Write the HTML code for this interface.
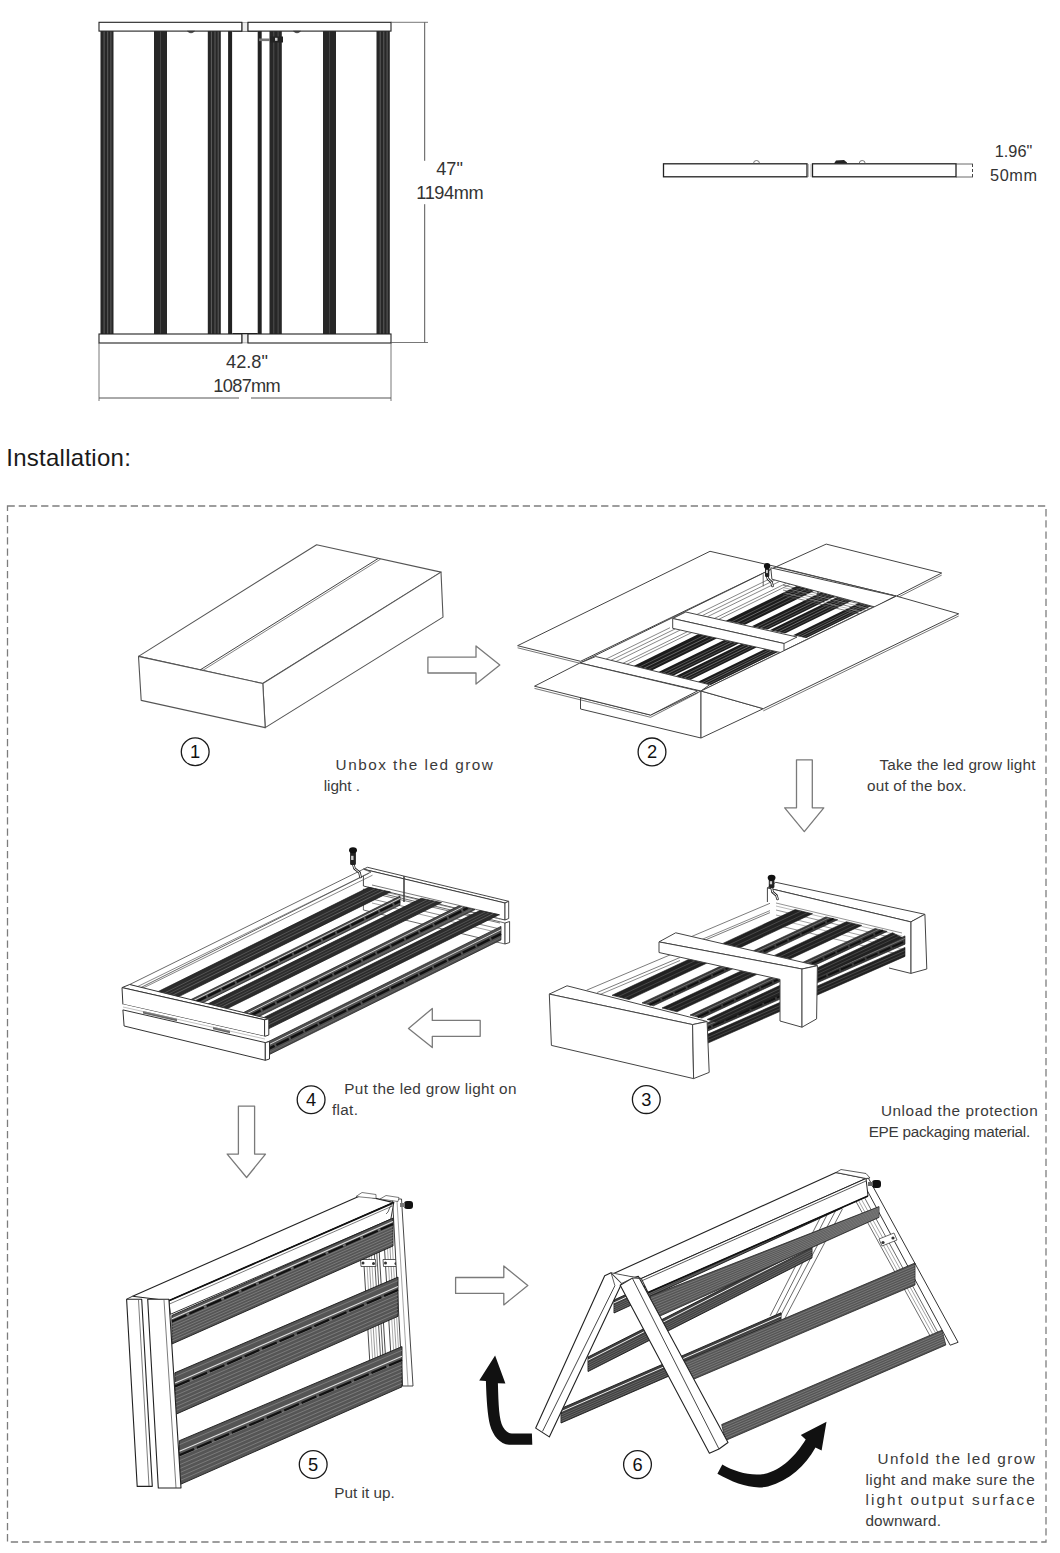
<!DOCTYPE html>
<html><head><meta charset="utf-8"><style>
html,body{margin:0;padding:0;background:#fff;overflow:hidden;width:1060px;height:1553px;}
svg{display:block;font-family:"Liberation Sans",sans-serif;}
</style></head><body>
<svg width="1060" height="1553" viewBox="0 0 1060 1553">
<rect width="1060" height="1553" fill="#fff"/>
<rect x="100.5" y="31.0" width="13.0" height="303.0" fill="#272727" stroke="none" stroke-width="0" />
<line x1="104.1" y1="31.0" x2="104.1" y2="334.0" stroke="#6b6b6b" stroke-width="0.8" />
<line x1="107.7" y1="31.0" x2="107.7" y2="334.0" stroke="#6b6b6b" stroke-width="0.8" />
<line x1="110.9" y1="31.0" x2="110.9" y2="334.0" stroke="#6b6b6b" stroke-width="0.8" />
<rect x="154.0" y="31.0" width="13.0" height="303.0" fill="#272727" stroke="none" stroke-width="0" />
<line x1="160.5" y1="31.0" x2="160.5" y2="334.0" stroke="#4a4a4a" stroke-width="0.8" />
<rect x="207.8" y="31.0" width="13.0" height="303.0" fill="#272727" stroke="none" stroke-width="0" />
<line x1="211.4" y1="31.0" x2="211.4" y2="334.0" stroke="#6b6b6b" stroke-width="0.8" />
<line x1="215.0" y1="31.0" x2="215.0" y2="334.0" stroke="#6b6b6b" stroke-width="0.8" />
<line x1="218.2" y1="31.0" x2="218.2" y2="334.0" stroke="#6b6b6b" stroke-width="0.8" />
<rect x="269.5" y="31.0" width="12.3" height="303.0" fill="#272727" stroke="none" stroke-width="0" />
<line x1="273.8" y1="31.0" x2="273.8" y2="334.0" stroke="#5a5a5a" stroke-width="0.8" />
<line x1="278.1" y1="31.0" x2="278.1" y2="334.0" stroke="#5a5a5a" stroke-width="0.8" />
<rect x="323.0" y="31.0" width="13.0" height="303.0" fill="#272727" stroke="none" stroke-width="0" />
<line x1="329.5" y1="31.0" x2="329.5" y2="334.0" stroke="#4a4a4a" stroke-width="0.8" />
<rect x="376.5" y="31.0" width="13.3" height="303.0" fill="#272727" stroke="none" stroke-width="0" />
<line x1="380.2" y1="31.0" x2="380.2" y2="334.0" stroke="#6b6b6b" stroke-width="0.8" />
<line x1="383.8" y1="31.0" x2="383.8" y2="334.0" stroke="#6b6b6b" stroke-width="0.8" />
<line x1="387.1" y1="31.0" x2="387.1" y2="334.0" stroke="#6b6b6b" stroke-width="0.8" />
<rect x="228.1" y="31.0" width="4.0" height="303.0" fill="#222" stroke="none" stroke-width="0" />
<rect x="257.7" y="31.0" width="4.0" height="303.0" fill="#222" stroke="none" stroke-width="0" />
<line x1="232.5" y1="333.5" x2="257.7" y2="333.5" stroke="#222" stroke-width="1" />
<line x1="232.5" y1="31.5" x2="257.7" y2="31.5" stroke="#333" stroke-width="0.8" />
<rect x="242.3" y="22.6" width="5.4" height="8.6" fill="#eee" stroke="#888" stroke-width="0.6" />
<rect x="242.3" y="334.3" width="5.4" height="8.6" fill="#eee" stroke="#888" stroke-width="0.6" />
<rect x="259.0" y="38.5" width="14.0" height="2.6" fill="#777" stroke="none" stroke-width="0" />
<rect x="270.0" y="36.5" width="13.0" height="6.0" fill="#222" stroke="none" stroke-width="0" />
<rect x="275.0" y="37.8" width="2.5" height="3.0" fill="#ccc" stroke="none" stroke-width="0" />
<rect x="99.0" y="22.3" width="142.8" height="8.8" fill="#fff" stroke="#222" stroke-width="1.1" />
<rect x="99.0" y="334.0" width="142.8" height="9.0" fill="#fff" stroke="#222" stroke-width="1.1" />
<rect x="248.0" y="22.3" width="143.0" height="8.8" fill="#fff" stroke="#222" stroke-width="1.1" />
<rect x="248.0" y="334.0" width="143.0" height="9.0" fill="#fff" stroke="#222" stroke-width="1.1" />
<path d="M187.5,31.2 Q191,34.5 194.5,31.2 Z" fill="#333" stroke="#333" stroke-width="0.6"/>
<path d="M293.5,31.2 Q297,34.5 300.5,31.2 Z" fill="#333" stroke="#333" stroke-width="0.6"/>
<line x1="391.0" y1="22.3" x2="428.0" y2="22.3" stroke="#555" stroke-width="0.8" />
<line x1="391.0" y1="342.5" x2="428.0" y2="342.5" stroke="#555" stroke-width="0.8" />
<line x1="424.7" y1="22.3" x2="424.7" y2="160.8" stroke="#555" stroke-width="1" />
<line x1="424.7" y1="204.2" x2="424.7" y2="342.5" stroke="#555" stroke-width="1" />
<line x1="99.0" y1="343.0" x2="99.0" y2="401.0" stroke="#555" stroke-width="0.8" />
<line x1="391.0" y1="343.0" x2="391.0" y2="401.0" stroke="#555" stroke-width="0.8" />
<line x1="99.0" y1="398.0" x2="239.0" y2="398.0" stroke="#555" stroke-width="1" />
<line x1="251.0" y1="398.0" x2="391.0" y2="398.0" stroke="#555" stroke-width="1" />
<text x="449.5" y="175.0" font-size="18.2" fill="#333" text-anchor="middle" >47"</text>
<text x="450.0" y="198.6" font-size="18.2" fill="#333" text-anchor="middle" textLength="67.5" lengthAdjust="spacing" >1194mm</text>
<text x="247.0" y="368.0" font-size="18.2" fill="#333" text-anchor="middle" >42.8"</text>
<text x="247.0" y="392.3" font-size="18.2" fill="#333" text-anchor="middle" textLength="67.5" lengthAdjust="spacing" >1087mm</text>
<rect x="663.5" y="163.8" width="143.5" height="13.0" fill="#fff" stroke="#222" stroke-width="1.3" />
<rect x="812.5" y="163.8" width="143.5" height="13.0" fill="#fff" stroke="#222" stroke-width="1.3" />
<line x1="808.5" y1="164.0" x2="808.5" y2="177.0" stroke="#aaa" stroke-width="0.8" />
<line x1="811.0" y1="164.0" x2="811.0" y2="177.0" stroke="#aaa" stroke-width="0.8" />
<polyline points="956.0,164.0 973.0,164.0" fill="none" stroke="#444" stroke-width="0.8" stroke-linejoin="round" />
<polyline points="956.0,177.0 973.0,177.0" fill="none" stroke="#444" stroke-width="0.8" stroke-linejoin="round" />
<line x1="972.5" y1="164.0" x2="972.5" y2="177.0" stroke="#444" stroke-width="1" stroke-dasharray="3,2"/>
<path d="M753.5,163.5 A3,3 0 0 1 759.5,163.5" fill="none" stroke="#555" stroke-width="0.8"/>
<path d="M859.2,163.5 A3,3 0 0 1 865.2,163.5" fill="none" stroke="#555" stroke-width="0.8"/>
<path d="M834,163.5 L836,160.5 L844,160 L847,162.5 L847,163.5 Z" fill="#222"/>
<text x="1013.5" y="157.0" font-size="16.3" fill="#333" text-anchor="middle" >1.96"</text>
<text x="1013.5" y="180.6" font-size="16.3" fill="#333" text-anchor="middle" textLength="47.0" lengthAdjust="spacing" >50mm</text>
<rect x="7.5" y="506" width="1038.5" height="1036" fill="none" stroke="#7d7d7d" stroke-width="1.3" stroke-dasharray="7.3,3.9"/>
<polygon points="427.9,657.2 476.0,657.2 476.0,645.9 499.8,665.1 476.0,684.1 476.0,673.0 427.9,673.0" fill="#fff" stroke="#7a7a7a" stroke-width="1.3" stroke-linejoin="round" />
<polygon points="796.5,759.8 812.3,759.8 812.3,807.8 823.8,807.8 804.3,831.6 784.7,807.8 796.5,807.8" fill="#fff" stroke="#7a7a7a" stroke-width="1.3" stroke-linejoin="round" />
<polygon points="480.2,1020.4 432.3,1020.4 432.3,1008.5 408.5,1028.4 432.3,1047.5 432.3,1036.3 480.2,1036.3" fill="#fff" stroke="#7a7a7a" stroke-width="1.3" stroke-linejoin="round" />
<polygon points="238.4,1106.1 254.6,1106.1 254.6,1154.1 265.5,1154.1 246.6,1177.5 227.2,1154.1 238.4,1154.1" fill="#fff" stroke="#7a7a7a" stroke-width="1.3" stroke-linejoin="round" />
<polygon points="455.6,1277.5 503.8,1277.5 503.8,1266.0 527.8,1285.6 503.8,1304.9 503.8,1293.4 455.6,1293.4" fill="#fff" stroke="#7a7a7a" stroke-width="1.3" stroke-linejoin="round" />
<circle cx="195.2" cy="751.8" r="13.9" fill="none" stroke="#1a1a1a" stroke-width="1.3"/>
<text x="195.2" y="758.2" font-size="18.3" fill="#111" text-anchor="middle" >1</text>
<circle cx="652" cy="751.9" r="13.9" fill="none" stroke="#1a1a1a" stroke-width="1.3"/>
<text x="652.0" y="758.3" font-size="18.3" fill="#111" text-anchor="middle" >2</text>
<circle cx="646.3" cy="1099.6" r="13.9" fill="none" stroke="#1a1a1a" stroke-width="1.3"/>
<text x="646.3" y="1106.0" font-size="18.3" fill="#111" text-anchor="middle" >3</text>
<circle cx="311.1" cy="1099.7" r="13.9" fill="none" stroke="#1a1a1a" stroke-width="1.3"/>
<text x="311.1" y="1106.1" font-size="18.3" fill="#111" text-anchor="middle" >4</text>
<circle cx="313.2" cy="1464.5" r="13.9" fill="none" stroke="#1a1a1a" stroke-width="1.3"/>
<text x="313.2" y="1470.9" font-size="18.3" fill="#111" text-anchor="middle" >5</text>
<circle cx="637.5" cy="1464.6" r="13.9" fill="none" stroke="#1a1a1a" stroke-width="1.3"/>
<text x="637.5" y="1471.0" font-size="18.3" fill="#111" text-anchor="middle" >6</text>
<text x="335.6" y="770.4" font-size="15.3" fill="#3a3a3a" text-anchor="start" textLength="157.3" lengthAdjust="spacing" >Unbox the led grow</text>
<text x="323.7" y="790.8" font-size="15.3" fill="#3a3a3a" text-anchor="start" textLength="36.2" lengthAdjust="spacing" >light .</text>
<text x="879.5" y="770.4" font-size="15.3" fill="#3a3a3a" text-anchor="start" textLength="155.9" lengthAdjust="spacing" >Take the led grow light</text>
<text x="867.0" y="791.0" font-size="15.3" fill="#3a3a3a" text-anchor="start" textLength="99.5" lengthAdjust="spacing" >out of the box.</text>
<text x="344.3" y="1094.2" font-size="15.3" fill="#3a3a3a" text-anchor="start" textLength="172.1" lengthAdjust="spacing" >Put the led grow light on</text>
<text x="331.9" y="1114.6" font-size="15.3" fill="#3a3a3a" text-anchor="start" textLength="26.0" lengthAdjust="spacing" >flat.</text>
<text x="880.9" y="1115.6" font-size="15.3" fill="#3a3a3a" text-anchor="start" textLength="156.8" lengthAdjust="spacing" >Unload the protection</text>
<text x="868.7" y="1136.9" font-size="15.3" fill="#3a3a3a" text-anchor="start" textLength="161.5" lengthAdjust="spacing" >EPE packaging material.</text>
<text x="334.2" y="1498.3" font-size="15.3" fill="#3a3a3a" text-anchor="start" textLength="60.5" lengthAdjust="spacing" >Put it up.</text>
<text x="877.4" y="1464.4" font-size="15.3" fill="#3a3a3a" text-anchor="start" textLength="157.4" lengthAdjust="spacing" >Unfold the led grow</text>
<text x="865.4" y="1484.8" font-size="15.3" fill="#3a3a3a" text-anchor="start" textLength="169.4" lengthAdjust="spacing" >light and make sure the</text>
<text x="865.4" y="1505.0" font-size="15.3" fill="#3a3a3a" text-anchor="start" textLength="169.4" lengthAdjust="spacing" >light output surface</text>
<text x="865.4" y="1525.7" font-size="15.3" fill="#3a3a3a" text-anchor="start" textLength="75.6" lengthAdjust="spacing" >downward.</text>
<text x="6.3" y="466.4" font-size="24" fill="#1a1a1a" text-anchor="start" textLength="124.5" lengthAdjust="spacing" >Installation:</text>
<polygon points="316.6,544.7 441.0,572.1 262.8,683.5 138.5,656.4" fill="#fff" stroke="#555" stroke-width="1.1" stroke-linejoin="round" />
<polygon points="441.0,572.1 443.0,617.1 265.2,727.6 262.8,683.5" fill="#fff" stroke="#555" stroke-width="1.1" stroke-linejoin="round" />
<polygon points="138.5,656.4 262.8,683.5 265.2,727.6 141.2,700.4" fill="#fff" stroke="#555" stroke-width="1.1" stroke-linejoin="round" />
<line x1="200.0" y1="670.0" x2="378.1" y2="558.5" stroke="#444" stroke-width="1" />
<line x1="202.5" y1="670.6" x2="380.6" y2="559.1" stroke="#666" stroke-width="0.8" />
<polygon points="580.5,661.3 776.4,566.7 710.0,551.3 517.6,645.7" fill="#fff" stroke="#444" stroke-width="1" stroke-linejoin="round" />
<line x1="517.6" y1="647.8" x2="580.5" y2="663.4" stroke="#555" stroke-width="0.8" />
<polygon points="776.4,566.7 896.4,596.1 941.7,573.0 826.2,544.1" fill="#fff" stroke="#444" stroke-width="1" stroke-linejoin="round" />
<line x1="896.4" y1="598.2" x2="941.7" y2="575.1" stroke="#555" stroke-width="0.8" />
<polygon points="580.0,663.0 701.0,691.0 896.0,596.0 776.0,567.0" fill="#fff" stroke="#444" stroke-width="1" stroke-linejoin="round" />
<polygon points="580.5,697.7 580.5,709.0 701.0,738.0 701.0,691.0 650.6,715.1" fill="#fff" stroke="#444" stroke-width="1" stroke-linejoin="round" />
<polygon points="701.0,691.0 701.0,738.0 763.3,708.7" fill="#fff" stroke="#444" stroke-width="1" stroke-linejoin="round" />
<clipPath id="secB"><polygon points="684.6,611.7 758.5,575.6 873.9,606.7 807.2,638.3"/></clipPath>
<polygon points="633.6,665.9 651.7,670.4 717.2,638.3 698.5,634.1" fill="#1c1c1c" stroke="none" stroke-width="0" stroke-linejoin="round" />
<line x1="639.0" y1="667.2" x2="704.1" y2="635.4" stroke="#777" stroke-width="0.6" />
<line x1="643.6" y1="668.3" x2="708.8" y2="636.4" stroke="#999" stroke-width="0.6" />
<line x1="648.1" y1="669.5" x2="713.4" y2="637.5" stroke="#666" stroke-width="0.6" />
<polygon points="658.5,672.0 673.2,675.7 739.4,643.3 724.2,639.9" fill="#1c1c1c" stroke="none" stroke-width="0" stroke-linejoin="round" />
<line x1="662.9" y1="673.1" x2="728.8" y2="640.9" stroke="#777" stroke-width="0.6" />
<line x1="666.6" y1="674.1" x2="732.5" y2="641.7" stroke="#999" stroke-width="0.6" />
<line x1="670.3" y1="675.0" x2="736.3" y2="642.6" stroke="#666" stroke-width="0.6" />
<polygon points="675.5,676.3 690.2,679.9 756.9,647.2 741.7,643.8" fill="#1c1c1c" stroke="none" stroke-width="0" stroke-linejoin="round" />
<line x1="679.9" y1="677.3" x2="746.3" y2="644.8" stroke="#777" stroke-width="0.6" />
<line x1="683.6" y1="678.3" x2="750.1" y2="645.7" stroke="#999" stroke-width="0.6" />
<line x1="687.3" y1="679.2" x2="753.9" y2="646.5" stroke="#666" stroke-width="0.6" />
<polygon points="698.0,681.8 710.6,684.9 778.0,651.9 765.0,649.0" fill="#1c1c1c" stroke="none" stroke-width="0" stroke-linejoin="round" />
<line x1="701.8" y1="682.8" x2="768.9" y2="649.9" stroke="#777" stroke-width="0.6" />
<line x1="704.9" y1="683.5" x2="772.1" y2="650.6" stroke="#999" stroke-width="0.6" />
<line x1="708.1" y1="684.3" x2="775.4" y2="651.4" stroke="#666" stroke-width="0.6" />
<g clip-path="url(#secB)">
<polygon points="633.6,665.9 651.7,670.4 886.9,555.2 868.8,550.7" fill="#1c1c1c" stroke="none" stroke-width="0" stroke-linejoin="round" />
<line x1="639.0" y1="667.2" x2="874.2" y2="552.0" stroke="#777" stroke-width="0.6" />
<line x1="643.6" y1="668.3" x2="878.8" y2="553.1" stroke="#999" stroke-width="0.6" />
<line x1="648.1" y1="669.5" x2="883.3" y2="554.3" stroke="#666" stroke-width="0.6" />
<polygon points="658.5,672.0 673.2,675.7 908.4,560.5 893.7,556.8" fill="#1c1c1c" stroke="none" stroke-width="0" stroke-linejoin="round" />
<line x1="662.9" y1="673.1" x2="898.1" y2="557.9" stroke="#777" stroke-width="0.6" />
<line x1="666.6" y1="674.1" x2="901.8" y2="558.9" stroke="#999" stroke-width="0.6" />
<line x1="670.3" y1="675.0" x2="905.5" y2="559.8" stroke="#666" stroke-width="0.6" />
<polygon points="675.5,676.3 690.2,679.9 925.4,564.7 910.7,561.1" fill="#1c1c1c" stroke="none" stroke-width="0" stroke-linejoin="round" />
<line x1="679.9" y1="677.3" x2="915.1" y2="562.1" stroke="#777" stroke-width="0.6" />
<line x1="683.6" y1="678.3" x2="918.8" y2="563.1" stroke="#999" stroke-width="0.6" />
<line x1="687.3" y1="679.2" x2="922.5" y2="564.0" stroke="#666" stroke-width="0.6" />
<polygon points="698.0,681.8 710.6,684.9 945.8,569.7 933.2,566.6" fill="#1c1c1c" stroke="none" stroke-width="0" stroke-linejoin="round" />
<line x1="701.8" y1="682.8" x2="937.0" y2="567.6" stroke="#777" stroke-width="0.6" />
<line x1="704.9" y1="683.5" x2="940.1" y2="568.3" stroke="#999" stroke-width="0.6" />
<line x1="708.1" y1="684.3" x2="943.3" y2="569.1" stroke="#666" stroke-width="0.6" />
<polygon points="716.0,686.3 728.0,689.3 963.2,574.1 951.2,571.1" fill="#1c1c1c" stroke="none" stroke-width="0" stroke-linejoin="round" />
<line x1="719.6" y1="687.2" x2="954.8" y2="572.0" stroke="#777" stroke-width="0.6" />
<line x1="722.6" y1="687.9" x2="957.8" y2="572.7" stroke="#999" stroke-width="0.6" />
<line x1="725.6" y1="688.7" x2="960.8" y2="573.5" stroke="#666" stroke-width="0.6" />
<polygon points="734.0,690.7 748.0,694.2 983.2,579.0 969.2,575.5" fill="#1c1c1c" stroke="none" stroke-width="0" stroke-linejoin="round" />
<line x1="738.2" y1="691.8" x2="973.4" y2="576.6" stroke="#777" stroke-width="0.6" />
<line x1="741.7" y1="692.6" x2="976.9" y2="577.4" stroke="#999" stroke-width="0.6" />
<line x1="745.2" y1="693.5" x2="980.4" y2="578.3" stroke="#666" stroke-width="0.6" />
</g>
<line x1="606.0" y1="659.1" x2="670.0" y2="627.7" stroke="#555" stroke-width="0.7" />
<line x1="696.9" y1="614.5" x2="770.0" y2="578.7" stroke="#555" stroke-width="0.7" />
<line x1="611.0" y1="660.3" x2="675.2" y2="628.9" stroke="#555" stroke-width="0.7" />
<line x1="702.1" y1="615.7" x2="774.9" y2="580.0" stroke="#555" stroke-width="0.7" />
<line x1="616.0" y1="661.5" x2="680.3" y2="630.0" stroke="#555" stroke-width="0.7" />
<line x1="707.3" y1="616.8" x2="779.8" y2="581.3" stroke="#555" stroke-width="0.7" />
<line x1="623.0" y1="663.3" x2="687.6" y2="631.6" stroke="#555" stroke-width="0.7" />
<line x1="714.5" y1="618.4" x2="786.5" y2="583.2" stroke="#555" stroke-width="0.7" />
<line x1="627.0" y1="664.2" x2="691.7" y2="632.6" stroke="#555" stroke-width="0.7" />
<line x1="718.6" y1="619.4" x2="790.4" y2="584.2" stroke="#555" stroke-width="0.7" />
<line x1="783.0" y1="585.0" x2="872.0" y2="607.0" stroke="#444" stroke-width="0.7" />
<line x1="783.0" y1="587.5" x2="872.0" y2="609.5" stroke="#888" stroke-width="0.7" />
<line x1="783.0" y1="590.0" x2="872.0" y2="612.0" stroke="#555" stroke-width="0.7" />
<line x1="783.0" y1="592.5" x2="872.0" y2="614.5" stroke="#999" stroke-width="0.7" />
<line x1="783.0" y1="595.0" x2="872.0" y2="617.0" stroke="#555" stroke-width="0.7" />
<line x1="818.0" y1="590.0" x2="818.0" y2="600.0" stroke="#444" stroke-width="1.4" />
<polygon points="580.0,663.0 701.0,691.0 709.6,684.7 595.7,656.5" fill="#fff" stroke="#444" stroke-width="1" stroke-linejoin="round" />
<polygon points="672.7,618.5 685.8,612.0 797.0,637.0 784.0,643.5" fill="#fff" stroke="#444" stroke-width="1" stroke-linejoin="round" />
<polygon points="672.7,618.5 784.0,643.5 784.0,653.3 672.7,628.3" fill="#fff" stroke="#444" stroke-width="1" stroke-linejoin="round" />
<polygon points="770.8,567.8 895.3,596.1 874.9,607.0 771.9,579.2" fill="#fff" stroke="#444" stroke-width="1" stroke-linejoin="round" />
<polygon points="579.9,663.0 697.7,690.8 650.6,715.1 534.5,686.2" fill="#fff" stroke="#444" stroke-width="1" stroke-linejoin="round" />
<line x1="534.5" y1="688.4" x2="650.6" y2="717.3" stroke="#555" stroke-width="0.8" />
<line x1="650.6" y1="717.3" x2="697.7" y2="693.0" stroke="#555" stroke-width="0.8" />
<polygon points="701.0,691.0 896.4,596.1 958.7,613.8 763.3,708.7" fill="#fff" stroke="#444" stroke-width="1" stroke-linejoin="round" />
<line x1="763.3" y1="710.9" x2="958.7" y2="616.0" stroke="#555" stroke-width="0.8" />
<line x1="763.2" y1="574.2" x2="763.2" y2="586.3" stroke="#444" stroke-width="0.8" />
<path d="M767.2,576.0 L768.0,579.0 L771.5,582.0 L772.5,586.0" fill="none" stroke="#222" stroke-width="2.6" stroke-linecap="round" stroke-linejoin="round"/>
<path d="M767.2,576.0 L768.0,579.0 L771.5,582.0 L772.5,586.0" fill="none" stroke="#fff" stroke-width="1.0" stroke-linecap="round" stroke-linejoin="round"/>
<rect x="765.0" y="564.0" width="4.3" height="13.0" rx="1.2" fill="#222"/>
<rect x="766.0" y="569.9" width="1.9" height="3.2" fill="#ccc"/>
<ellipse cx="767.1" cy="566.0" rx="3.2" ry="3" fill="#111"/>
<polygon points="767.4,887.9 775.8,882.3 924.9,914.3 910.8,921.9" fill="#fff" stroke="#444" stroke-width="1" stroke-linejoin="round" />
<polygon points="910.8,921.9 924.9,914.3 926.8,969.0 910.8,973.4" fill="#fff" stroke="#444" stroke-width="1" stroke-linejoin="round" />
<polygon points="767.4,887.9 910.8,921.9 910.8,973.4 889.0,968.0 767.4,940.0" fill="#fff" stroke="none" stroke-width="0" stroke-linejoin="round" />
<polyline points="767.4,902.0 767.4,887.9 910.8,921.9 910.8,973.4 889.0,968.0" fill="none" stroke="#444" stroke-width="1" stroke-linejoin="round" />
<line x1="776.0" y1="903.0" x2="902.0" y2="933.0" stroke="#666" stroke-width="0.7" />
<line x1="776.0" y1="906.0" x2="902.0" y2="936.0" stroke="#999" stroke-width="0.7" />
<line x1="776.0" y1="910.0" x2="902.0" y2="940.0" stroke="#666" stroke-width="0.7" />
<line x1="776.0" y1="915.0" x2="902.0" y2="945.0" stroke="#777" stroke-width="0.7" />
<line x1="776.0" y1="919.0" x2="902.0" y2="949.0" stroke="#999" stroke-width="0.7" />
<line x1="776.0" y1="925.0" x2="902.0" y2="955.0" stroke="#666" stroke-width="0.7" />
<polygon points="700.0,1026.1 905.0,935.9 905.0,944.2 700.0,1034.4" fill="#3a3a3a" stroke="#1a1a1a" stroke-width="0.6" stroke-linejoin="round" />
<line x1="700.0" y1="1028.6" x2="905.0" y2="938.4" stroke="#999" stroke-width="0.6" />
<line x1="700.0" y1="1031.5" x2="905.0" y2="941.3" stroke="#111" stroke-width="2" stroke-dasharray="12,2"/>
<polygon points="700.0,1037.6 905.0,947.4 905.0,956.4 700.0,1046.6" fill="#222" stroke="#1a1a1a" stroke-width="0.6" stroke-linejoin="round" />
<line x1="700.0" y1="1040.8" x2="905.0" y2="950.5" stroke="#5a5a5a" stroke-width="0.7" />
<line x1="700.0" y1="1043.9" x2="905.0" y2="953.7" stroke="#555" stroke-width="0.6" />
<polygon points="672.0,944.8 770.0,903.3 770.0,914.3 672.0,955.8" fill="#fff" stroke="none" stroke-width="0" stroke-linejoin="round" />
<line x1="672.0" y1="944.8" x2="770.0" y2="903.3" stroke="#444" stroke-width="0.7" />
<line x1="672.0" y1="952.1" x2="770.0" y2="910.6" stroke="#555" stroke-width="0.7" />
<line x1="672.0" y1="954.1" x2="770.0" y2="912.6" stroke="#444" stroke-width="0.7" />
<line x1="586.6" y1="990.2" x2="680.0" y2="950.7" stroke="#444" stroke-width="0.7" />
<line x1="597.2" y1="992.5" x2="680.0" y2="957.5" stroke="#444" stroke-width="0.7" />
<line x1="600.0" y1="994.5" x2="680.0" y2="960.5" stroke="#555" stroke-width="0.7" />
<polygon points="612.0,995.3 795.1,909.6 812.5,913.7 629.0,999.6" fill="#222" stroke="#1a1a1a" stroke-width="0.6" stroke-linejoin="round" />
<line x1="618.0" y1="996.8" x2="801.2" y2="911.0" stroke="#5a5a5a" stroke-width="0.7" />
<line x1="623.9" y1="998.3" x2="807.3" y2="912.5" stroke="#555" stroke-width="0.6" />
<polygon points="642.0,1002.9 825.9,916.9 837.7,919.7 653.5,1005.8" fill="#3a3a3a" stroke="#1a1a1a" stroke-width="0.6" stroke-linejoin="round" />
<line x1="645.5" y1="1003.8" x2="829.4" y2="917.7" stroke="#999" stroke-width="0.6" />
<line x1="649.5" y1="1004.8" x2="833.5" y2="918.7" stroke="#111" stroke-width="2" stroke-dasharray="12,2"/>
<polygon points="662.0,1008.0 846.4,921.7 861.7,925.4 677.0,1011.8" fill="#222" stroke="#1a1a1a" stroke-width="0.6" stroke-linejoin="round" />
<line x1="667.2" y1="1009.3" x2="851.8" y2="923.0" stroke="#5a5a5a" stroke-width="0.7" />
<line x1="672.5" y1="1010.7" x2="857.1" y2="924.3" stroke="#555" stroke-width="0.6" />
<polygon points="690.0,1015.1 875.1,928.5 887.2,931.4 701.8,1018.1" fill="#3a3a3a" stroke="#1a1a1a" stroke-width="0.6" stroke-linejoin="round" />
<line x1="693.5" y1="1016.0" x2="878.7" y2="929.4" stroke="#999" stroke-width="0.6" />
<line x1="697.7" y1="1017.1" x2="882.9" y2="930.4" stroke="#111" stroke-width="2" stroke-dasharray="12,2"/>
<polygon points="707.0,1019.5 892.5,932.7 902.0,937.6 720.0,1022.8" fill="#222" stroke="#1a1a1a" stroke-width="0.6" stroke-linejoin="round" />
<line x1="711.5" y1="1020.6" x2="895.8" y2="934.4" stroke="#5a5a5a" stroke-width="0.7" />
<line x1="716.1" y1="1021.8" x2="899.1" y2="936.1" stroke="#555" stroke-width="0.6" />
<polygon points="659.0,941.9 675.7,932.8 817.4,965.7 802.0,969.0" fill="#fff" stroke="#444" stroke-width="1" stroke-linejoin="round" />
<polygon points="659.0,941.9 802.0,969.0 802.0,1027.2 780.0,1021.0 780.0,979.4 659.0,952.5" fill="#fff" stroke="#444" stroke-width="1" stroke-linejoin="round" />
<polygon points="802.0,969.0 817.4,965.7 816.6,1018.9 802.0,1027.2" fill="#fff" stroke="#444" stroke-width="1" stroke-linejoin="round" />
<polygon points="549.3,994.1 567.0,985.8 707.1,1021.5 692.6,1024.6" fill="#fff" stroke="#444" stroke-width="1" stroke-linejoin="round" />
<polygon points="549.3,994.1 692.6,1024.6 693.6,1078.6 551.4,1045.4" fill="#fff" stroke="#444" stroke-width="1" stroke-linejoin="round" />
<polygon points="692.6,1024.6 707.1,1021.5 709.2,1072.4 693.6,1078.6" fill="#fff" stroke="#444" stroke-width="1" stroke-linejoin="round" />
<path d="M771.6,887.0 L772.5,892.0 L776.5,895.5 L777.5,899.0" fill="none" stroke="#222" stroke-width="2.6" stroke-linecap="round" stroke-linejoin="round"/>
<path d="M771.6,887.0 L772.5,892.0 L776.5,895.5 L777.5,899.0" fill="none" stroke="#fff" stroke-width="1.0" stroke-linecap="round" stroke-linejoin="round"/>
<rect x="768.8" y="875.7" width="5.6" height="12.3" rx="1.2" fill="#222"/>
<rect x="769.8" y="881.2" width="2.3" height="3.1" fill="#ccc"/>
<ellipse cx="771.6" cy="877.7" rx="3.9" ry="3" fill="#111"/>
<polygon points="363.4,869.2 367.5,867.3 508.7,901.3 505.0,903.0" fill="#fff" stroke="#333" stroke-width="0.9" stroke-linejoin="round" />
<polygon points="363.4,869.2 505.0,903.0 505.0,920.0 363.4,886.0" fill="#fff" stroke="#333" stroke-width="0.9" stroke-linejoin="round" />
<polygon points="505.0,903.0 508.7,901.3 508.7,918.5 505.0,920.0" fill="#fff" stroke="#333" stroke-width="0.9" stroke-linejoin="round" />
<polygon points="363.4,889.0 505.0,923.0 505.0,944.0 363.4,910.0" fill="#fff" stroke="#444" stroke-width="0.8" stroke-linejoin="round" />
<polygon points="505.0,923.0 509.6,921.5 509.6,942.5 505.0,944.0" fill="#fff" stroke="#333" stroke-width="0.9" stroke-linejoin="round" />
<line x1="372.0" y1="885.0" x2="500.0" y2="915.0" stroke="#555" stroke-width="0.8" />
<line x1="372.0" y1="889.0" x2="500.0" y2="919.0" stroke="#888" stroke-width="0.8" />
<line x1="372.0" y1="893.0" x2="500.0" y2="923.0" stroke="#555" stroke-width="0.8" />
<line x1="372.0" y1="899.0" x2="500.0" y2="929.0" stroke="#666" stroke-width="0.8" />
<line x1="372.0" y1="903.0" x2="500.0" y2="933.0" stroke="#888" stroke-width="0.8" />
<line x1="404.0" y1="876.0" x2="404.0" y2="902.0" stroke="#444" stroke-width="1.6" />
<polygon points="129.7,984.5 363.4,869.2 371.0,872.0 140.0,988.0" fill="#fff" stroke="#444" stroke-width="0.8" stroke-linejoin="round" />
<line x1="135.7" y1="987.5" x2="369.0" y2="873.2" stroke="#555" stroke-width="0.7" />
<line x1="139.9" y1="989.6" x2="372.5" y2="875.2" stroke="#555" stroke-width="0.7" />
<polygon points="154.2,993.5 368.7,887.3 390.4,891.9 174.8,998.6" fill="#2c2c2c" stroke="#1a1a1a" stroke-width="0.7" stroke-linejoin="round" />
<line x1="160.3" y1="995.0" x2="375.2" y2="888.7" stroke="#666" stroke-width="0.7" />
<line x1="164.5" y1="996.0" x2="379.5" y2="889.6" stroke="#5a5a5a" stroke-width="0.7" />
<line x1="168.6" y1="997.1" x2="383.9" y2="890.5" stroke="#777" stroke-width="0.7" />
<polygon points="186.9,1001.6 400.0,896.1 400.0,905.1 199.1,1004.6" fill="#505050" stroke="#1a1a1a" stroke-width="0.7" stroke-linejoin="round" />
<line x1="190.0" y1="1002.3" x2="400.0" y2="898.4" stroke="#d0d0d0" stroke-width="1.0" />
<line x1="193.6" y1="1003.2" x2="400.0" y2="901.1" stroke="#111" stroke-width="2.5" stroke-dasharray="14,2"/>
<line x1="196.9" y1="1004.0" x2="400.0" y2="903.5" stroke="#777" stroke-width="0.6" />
<polygon points="204.0,1005.8 421.2,898.3 441.5,902.6 223.3,1010.6" fill="#2c2c2c" stroke="#1a1a1a" stroke-width="0.7" stroke-linejoin="round" />
<line x1="209.8" y1="1007.2" x2="427.3" y2="899.6" stroke="#666" stroke-width="0.7" />
<line x1="213.7" y1="1008.2" x2="431.3" y2="900.4" stroke="#5a5a5a" stroke-width="0.7" />
<line x1="217.5" y1="1009.1" x2="435.4" y2="901.3" stroke="#777" stroke-width="0.7" />
<polygon points="239.5,1014.5 458.5,906.1 475.0,909.6 255.2,1018.4" fill="#505050" stroke="#1a1a1a" stroke-width="0.7" stroke-linejoin="round" />
<line x1="243.4" y1="1015.5" x2="462.6" y2="907.0" stroke="#d0d0d0" stroke-width="1.0" />
<line x1="248.1" y1="1016.7" x2="467.6" y2="908.0" stroke="#111" stroke-width="2.5" stroke-dasharray="14,2"/>
<line x1="252.3" y1="1017.7" x2="472.0" y2="909.0" stroke="#777" stroke-width="0.6" />
<polygon points="262.0,1018.4 479.8,910.6 499.2,914.7 262.0,1032.1" fill="#2c2c2c" stroke="#1a1a1a" stroke-width="0.7" stroke-linejoin="round" />
<line x1="262.0" y1="1022.5" x2="485.6" y2="911.8" stroke="#666" stroke-width="0.7" />
<line x1="262.0" y1="1025.3" x2="489.5" y2="912.6" stroke="#5a5a5a" stroke-width="0.7" />
<line x1="262.0" y1="1028.0" x2="493.4" y2="913.5" stroke="#777" stroke-width="0.7" />
<polygon points="262.0,1044.7 501.0,926.4 501.0,939.9 262.0,1058.2" fill="#505050" stroke="#1a1a1a" stroke-width="0.7" stroke-linejoin="round" />
<line x1="262.0" y1="1048.1" x2="501.0" y2="929.8" stroke="#d0d0d0" stroke-width="1.0" />
<line x1="262.0" y1="1052.1" x2="501.0" y2="933.8" stroke="#111" stroke-width="2.5" stroke-dasharray="14,2"/>
<line x1="262.0" y1="1055.8" x2="501.0" y2="937.5" stroke="#777" stroke-width="0.6" />
<polygon points="122.0,987.6 129.7,984.5 268.8,1018.8 264.6,1019.8" fill="#fff" stroke="#333" stroke-width="1" stroke-linejoin="round" />
<polygon points="122.0,987.6 264.6,1019.8 264.6,1036.4 122.9,1004.3" fill="#fff" stroke="#333" stroke-width="1" stroke-linejoin="round" />
<polygon points="264.6,1019.8 268.8,1018.8 268.8,1035.0 264.6,1036.4" fill="#fff" stroke="#333" stroke-width="1" stroke-linejoin="round" />
<polygon points="122.9,1004.3 264.6,1036.4 265.3,1042.6 122.9,1009.9" fill="#fff" stroke="none" stroke-width="0" stroke-linejoin="round" />
<polygon points="143.0,1011.0 177.0,1018.7 177.0,1021.2 143.0,1013.5" fill="#666" stroke="none" stroke-width="0" stroke-linejoin="round" />
<polygon points="213.0,1026.8 230.0,1030.7 230.0,1033.2 213.0,1029.3" fill="#666" stroke="none" stroke-width="0" stroke-linejoin="round" />
<line x1="123.0" y1="1007.0" x2="265.0" y2="1039.0" stroke="#999" stroke-width="0.6" />
<polygon points="122.9,1009.9 265.3,1042.6 265.3,1060.3 124.1,1026.0" fill="#fff" stroke="#333" stroke-width="1" stroke-linejoin="round" />
<polygon points="265.3,1042.6 269.5,1041.5 269.5,1059.0 265.3,1060.3" fill="#fff" stroke="#333" stroke-width="1" stroke-linejoin="round" />
<path d="M353.2,864.0 L354.5,868.5 L359.5,872.5 L360.5,877.0" fill="none" stroke="#222" stroke-width="2.6" stroke-linecap="round" stroke-linejoin="round"/>
<path d="M353.2,864.0 L354.5,868.5 L359.5,872.5 L360.5,877.0" fill="none" stroke="#fff" stroke-width="1.0" stroke-linecap="round" stroke-linejoin="round"/>
<rect x="350.1" y="848.3" width="5.8" height="16.7" rx="1.2" fill="#222"/>
<rect x="351.1" y="855.8" width="2.4" height="4.2" fill="#ccc"/>
<ellipse cx="353.0" cy="850.3" rx="4.0" ry="3" fill="#111"/>
<polygon points="361.0,1215.0 377.0,1215.0 387.2,1385.0 371.2,1385.0" fill="#fff" stroke="none" stroke-width="0" stroke-linejoin="round" />
<line x1="361.0" y1="1215.0" x2="371.2" y2="1385.0" stroke="#333" stroke-width="0.9" />
<line x1="364.0" y1="1215.0" x2="374.2" y2="1385.0" stroke="#777" stroke-width="0.6" />
<line x1="366.5" y1="1215.0" x2="376.7" y2="1385.0" stroke="#555" stroke-width="0.6" />
<line x1="369.0" y1="1215.0" x2="379.2" y2="1385.0" stroke="#777" stroke-width="0.6" />
<line x1="372.0" y1="1215.0" x2="382.2" y2="1385.0" stroke="#333" stroke-width="0.8" />
<line x1="374.5" y1="1215.0" x2="384.7" y2="1385.0" stroke="#333" stroke-width="0.8" />
<line x1="377.0" y1="1215.0" x2="387.2" y2="1385.0" stroke="#333" stroke-width="0.9" />
<polygon points="382.5,1215.0 398.5,1215.0 408.7,1385.0 392.7,1385.0" fill="#fff" stroke="none" stroke-width="0" stroke-linejoin="round" />
<line x1="382.5" y1="1215.0" x2="392.7" y2="1385.0" stroke="#333" stroke-width="0.9" />
<line x1="385.5" y1="1215.0" x2="395.7" y2="1385.0" stroke="#777" stroke-width="0.6" />
<line x1="388.0" y1="1215.0" x2="398.2" y2="1385.0" stroke="#555" stroke-width="0.6" />
<line x1="390.5" y1="1215.0" x2="400.7" y2="1385.0" stroke="#777" stroke-width="0.6" />
<line x1="393.5" y1="1215.0" x2="403.7" y2="1385.0" stroke="#333" stroke-width="0.8" />
<line x1="396.0" y1="1215.0" x2="406.2" y2="1385.0" stroke="#333" stroke-width="0.8" />
<line x1="398.5" y1="1215.0" x2="408.7" y2="1385.0" stroke="#333" stroke-width="0.9" />
<polygon points="360.5,1259.5 375.5,1259.5 376.0,1266.5 361.0,1266.5" fill="#fff" stroke="#333" stroke-width="0.8" stroke-linejoin="round" />
<circle cx="363.0" cy="1263" r="1.5" fill="#333"/><circle cx="373.5" cy="1263.5" r="1.5" fill="#333"/>
<polygon points="383.0,1259.5 398.0,1259.5 398.5,1266.5 383.5,1266.5" fill="#fff" stroke="#333" stroke-width="0.8" stroke-linejoin="round" />
<circle cx="385.5" cy="1263" r="1.5" fill="#333"/><circle cx="396" cy="1263.5" r="1.5" fill="#333"/>
<polygon points="392.5,1199.0 401.5,1199.0 413.0,1386.0 402.6,1386.0" fill="#fff" stroke="#333" stroke-width="0.9" stroke-linejoin="round" />
<line x1="397.0" y1="1201.0" x2="408.0" y2="1386.0" stroke="#666" stroke-width="0.6" />
<polygon points="132.6,1296.2 362.0,1195.1 393.8,1202.6 168.9,1300.8" fill="#fff" stroke="#222" stroke-width="1.1" stroke-linejoin="round" />
<polygon points="168.9,1300.8 393.8,1202.6 390.8,1219.2 170.4,1314.3" fill="#fff" stroke="#333" stroke-width="1" stroke-linejoin="round" />
<line x1="168.9" y1="1300.8" x2="393.8" y2="1202.6" stroke="#111" stroke-width="1.8" />
<line x1="169.5" y1="1304.0" x2="393.0" y2="1205.8" stroke="#444" stroke-width="0.7" />
<polygon points="356.0,1196.5 362.0,1192.5 376.0,1194.5 376.0,1198.5" fill="#fff" stroke="#444" stroke-width="0.7" stroke-linejoin="round" />
<polygon points="380.0,1199.0 386.0,1195.5 399.0,1197.5 398.0,1201.5" fill="#fff" stroke="#444" stroke-width="0.7" stroke-linejoin="round" />
<polygon points="171.9,1315.4 393.0,1218.1 393.0,1246.0 171.9,1344.0" fill="#555" stroke="#1a1a1a" stroke-width="0.9" stroke-linejoin="round" />
<line x1="171.9" y1="1321.1" x2="393.0" y2="1223.7" stroke="#9a9a9a" stroke-width="0.55" />
<line x1="171.9" y1="1324.0" x2="393.0" y2="1226.5" stroke="#9a9a9a" stroke-width="0.55" />
<line x1="171.9" y1="1326.8" x2="393.0" y2="1229.3" stroke="#9a9a9a" stroke-width="0.55" />
<line x1="171.9" y1="1329.7" x2="393.0" y2="1232.0" stroke="#9a9a9a" stroke-width="0.55" />
<line x1="171.9" y1="1332.6" x2="393.0" y2="1234.8" stroke="#9a9a9a" stroke-width="0.55" />
<line x1="171.9" y1="1335.4" x2="393.0" y2="1237.6" stroke="#9a9a9a" stroke-width="0.55" />
<line x1="171.9" y1="1338.3" x2="393.0" y2="1240.4" stroke="#9a9a9a" stroke-width="0.55" />
<line x1="171.9" y1="1341.1" x2="393.0" y2="1243.2" stroke="#9a9a9a" stroke-width="0.55" />
<line x1="171.9" y1="1318.8" x2="393.0" y2="1221.4" stroke="#e0e0e0" stroke-width="1.1" />
<line x1="171.9" y1="1321.4" x2="393.0" y2="1224.0" stroke="#111" stroke-width="2.2" stroke-dasharray="16,3"/>
<polygon points="174.9,1372.8 398.0,1277.1 398.0,1316.3 174.9,1414.7" fill="#555" stroke="#1a1a1a" stroke-width="0.9" stroke-linejoin="round" />
<line x1="174.9" y1="1376.6" x2="398.0" y2="1280.7" stroke="#9a9a9a" stroke-width="0.55" />
<line x1="174.9" y1="1388.0" x2="398.0" y2="1291.4" stroke="#9a9a9a" stroke-width="0.55" />
<line x1="174.9" y1="1391.8" x2="398.0" y2="1294.9" stroke="#9a9a9a" stroke-width="0.55" />
<line x1="174.9" y1="1395.7" x2="398.0" y2="1298.5" stroke="#9a9a9a" stroke-width="0.55" />
<line x1="174.9" y1="1399.5" x2="398.0" y2="1302.0" stroke="#9a9a9a" stroke-width="0.55" />
<line x1="174.9" y1="1403.3" x2="398.0" y2="1305.6" stroke="#9a9a9a" stroke-width="0.55" />
<line x1="174.9" y1="1407.1" x2="398.0" y2="1309.2" stroke="#9a9a9a" stroke-width="0.55" />
<line x1="174.9" y1="1410.9" x2="398.0" y2="1312.7" stroke="#9a9a9a" stroke-width="0.55" />
<line x1="174.9" y1="1382.9" x2="398.0" y2="1286.5" stroke="#e0e0e0" stroke-width="1.1" />
<line x1="174.9" y1="1386.6" x2="398.0" y2="1290.0" stroke="#111" stroke-width="2.2" stroke-dasharray="16,3"/>
<polygon points="179.4,1440.7 402.0,1346.6 402.0,1386.8 179.4,1484.8" fill="#555" stroke="#1a1a1a" stroke-width="0.9" stroke-linejoin="round" />
<line x1="179.4" y1="1444.7" x2="402.0" y2="1350.3" stroke="#9a9a9a" stroke-width="0.55" />
<line x1="179.4" y1="1456.7" x2="402.0" y2="1361.2" stroke="#9a9a9a" stroke-width="0.55" />
<line x1="179.4" y1="1460.7" x2="402.0" y2="1364.9" stroke="#9a9a9a" stroke-width="0.55" />
<line x1="179.4" y1="1464.8" x2="402.0" y2="1368.5" stroke="#9a9a9a" stroke-width="0.55" />
<line x1="179.4" y1="1468.8" x2="402.0" y2="1372.2" stroke="#9a9a9a" stroke-width="0.55" />
<line x1="179.4" y1="1472.8" x2="402.0" y2="1375.8" stroke="#9a9a9a" stroke-width="0.55" />
<line x1="179.4" y1="1476.8" x2="402.0" y2="1379.5" stroke="#9a9a9a" stroke-width="0.55" />
<line x1="179.4" y1="1480.8" x2="402.0" y2="1383.1" stroke="#9a9a9a" stroke-width="0.55" />
<line x1="179.4" y1="1451.3" x2="402.0" y2="1356.2" stroke="#e0e0e0" stroke-width="1.1" />
<line x1="179.4" y1="1455.3" x2="402.0" y2="1359.9" stroke="#111" stroke-width="2.2" stroke-dasharray="16,3"/>
<polygon points="126.6,1299.2 141.7,1299.2 152.3,1486.4 137.2,1486.4" fill="#fff" stroke="#222" stroke-width="1.1" stroke-linejoin="round" />
<line x1="138.5" y1="1300.0" x2="149.0" y2="1486.0" stroke="#444" stroke-width="0.7" />
<polygon points="147.7,1299.2 168.9,1299.2 181.0,1487.9 158.3,1488.0" fill="#fff" stroke="#222" stroke-width="1.1" stroke-linejoin="round" />
<line x1="164.0" y1="1300.0" x2="176.0" y2="1488.0" stroke="#444" stroke-width="0.7" />
<line x1="132.6" y1="1296.2" x2="126.6" y2="1299.2" stroke="#333" stroke-width="1" />
<rect x="404" y="1201" width="9" height="8" rx="3" fill="#111"/>
<rect x="400" y="1203" width="5" height="4" fill="#777"/>
<polyline points="393.0,1203.0 390.0,1207.0 388.0,1212.0 386.0,1214.0" fill="none" stroke="#444" stroke-width="0.8" stroke-linejoin="round" />
<polygon points="862.0,1180.8 868.3,1178.0 958.1,1342.3 950.2,1345.2" fill="#fff" stroke="#333" stroke-width="1" stroke-linejoin="round" />
<polygon points="853.0,1196.0 862.0,1193.0 942.0,1340.0 934.0,1343.0" fill="#fff" stroke="#444" stroke-width="0.8" stroke-linejoin="round" />
<line x1="856.0" y1="1196.0" x2="937.0" y2="1342.0" stroke="#666" stroke-width="0.6" />
<line x1="859.0" y1="1195.0" x2="940.0" y2="1341.0" stroke="#666" stroke-width="0.6" />
<polygon points="879.0,1239.0 894.0,1233.0 897.0,1240.0 882.0,1246.0" fill="#fff" stroke="#444" stroke-width="0.8" stroke-linejoin="round" />
<circle cx="883" cy="1242.5" r="1.6" fill="#333"/><circle cx="893" cy="1238" r="1.6" fill="#333"/>
<line x1="770.2" y1="1315.8" x2="824.5" y2="1209.4" stroke="#444" stroke-width="0.8" />
<line x1="775.0" y1="1317.0" x2="830.0" y2="1209.0" stroke="#444" stroke-width="0.8" />
<line x1="779.0" y1="1318.5" x2="836.5" y2="1209.0" stroke="#444" stroke-width="0.8" />
<line x1="783.8" y1="1320.4" x2="842.6" y2="1208.7" stroke="#444" stroke-width="0.8" />
<polygon points="614.0,1300.0 842.0,1195.1 842.0,1208.1 614.0,1313.0" fill="#404040" stroke="#1a1a1a" stroke-width="0.9" stroke-linejoin="round" />
<line x1="614.0" y1="1302.9" x2="842.0" y2="1198.0" stroke="#eee" stroke-width="1.0" />
<line x1="614.0" y1="1305.8" x2="842.0" y2="1201.0" stroke="#888" stroke-width="0.5" />
<line x1="614.0" y1="1307.8" x2="842.0" y2="1202.9" stroke="#888" stroke-width="0.5" />
<line x1="614.0" y1="1309.8" x2="842.0" y2="1204.9" stroke="#888" stroke-width="0.5" />
<line x1="614.0" y1="1311.7" x2="842.0" y2="1206.8" stroke="#888" stroke-width="0.5" />
<polygon points="588.0,1357.0 812.0,1243.4 812.0,1257.9 588.0,1371.5" fill="#404040" stroke="#1a1a1a" stroke-width="0.9" stroke-linejoin="round" />
<line x1="588.0" y1="1360.2" x2="812.0" y2="1246.6" stroke="#eee" stroke-width="1.0" />
<line x1="588.0" y1="1363.5" x2="812.0" y2="1250.0" stroke="#888" stroke-width="0.5" />
<line x1="588.0" y1="1365.7" x2="812.0" y2="1252.1" stroke="#888" stroke-width="0.5" />
<line x1="588.0" y1="1367.9" x2="812.0" y2="1254.3" stroke="#888" stroke-width="0.5" />
<line x1="588.0" y1="1370.0" x2="812.0" y2="1256.5" stroke="#888" stroke-width="0.5" />
<polygon points="561.0,1408.5 781.0,1312.8 781.0,1327.3 561.0,1423.0" fill="#404040" stroke="#1a1a1a" stroke-width="0.9" stroke-linejoin="round" />
<line x1="561.0" y1="1411.7" x2="781.0" y2="1316.0" stroke="#eee" stroke-width="1.0" />
<line x1="561.0" y1="1415.0" x2="781.0" y2="1319.3" stroke="#888" stroke-width="0.5" />
<line x1="561.0" y1="1417.2" x2="781.0" y2="1321.5" stroke="#888" stroke-width="0.5" />
<line x1="561.0" y1="1419.4" x2="781.0" y2="1323.7" stroke="#888" stroke-width="0.5" />
<line x1="561.0" y1="1421.5" x2="781.0" y2="1325.8" stroke="#888" stroke-width="0.5" />
<polygon points="612.6,1274.0 836.0,1172.5 866.0,1178.5 641.3,1278.5" fill="#fff" stroke="#222" stroke-width="1.1" stroke-linejoin="round" />
<polygon points="641.3,1278.5 866.0,1178.5 868.0,1196.0 648.1,1292.5" fill="#fff" stroke="#222" stroke-width="1" stroke-linejoin="round" />
<line x1="641.3" y1="1281.0" x2="866.0" y2="1181.0" stroke="#333" stroke-width="0.8" />
<line x1="648.1" y1="1292.5" x2="868.0" y2="1196.0" stroke="#111" stroke-width="1.6" />
<polygon points="836.0,1172.5 841.0,1169.5 866.0,1173.5 870.0,1178.0 866.0,1178.5" fill="#fff" stroke="#333" stroke-width="0.8" stroke-linejoin="round" />
<polygon points="650.0,1296.1 879.0,1206.6 879.0,1217.4 650.0,1320.5" fill="#555" stroke="#222" stroke-width="0.8" stroke-linejoin="round" />
<line x1="650.0" y1="1298.8" x2="879.0" y2="1207.8" stroke="#9a9a9a" stroke-width="0.5" />
<line x1="650.0" y1="1301.5" x2="879.0" y2="1209.0" stroke="#9a9a9a" stroke-width="0.5" />
<line x1="650.0" y1="1304.2" x2="879.0" y2="1210.2" stroke="#9a9a9a" stroke-width="0.5" />
<line x1="650.0" y1="1306.9" x2="879.0" y2="1211.4" stroke="#9a9a9a" stroke-width="0.5" />
<line x1="650.0" y1="1309.7" x2="879.0" y2="1212.6" stroke="#9a9a9a" stroke-width="0.5" />
<line x1="650.0" y1="1312.4" x2="879.0" y2="1213.8" stroke="#9a9a9a" stroke-width="0.5" />
<line x1="650.0" y1="1315.1" x2="879.0" y2="1215.0" stroke="#9a9a9a" stroke-width="0.5" />
<line x1="650.0" y1="1317.8" x2="879.0" y2="1216.2" stroke="#9a9a9a" stroke-width="0.5" />
<polygon points="680.0,1363.0 915.0,1263.0 915.0,1285.0 680.0,1385.0" fill="#555" stroke="#222" stroke-width="0.8" stroke-linejoin="round" />
<line x1="680.0" y1="1365.4" x2="915.0" y2="1265.4" stroke="#9a9a9a" stroke-width="0.5" />
<line x1="680.0" y1="1367.9" x2="915.0" y2="1267.9" stroke="#9a9a9a" stroke-width="0.5" />
<line x1="680.0" y1="1370.3" x2="915.0" y2="1270.3" stroke="#9a9a9a" stroke-width="0.5" />
<line x1="680.0" y1="1372.8" x2="915.0" y2="1272.8" stroke="#9a9a9a" stroke-width="0.5" />
<line x1="680.0" y1="1375.2" x2="915.0" y2="1275.2" stroke="#9a9a9a" stroke-width="0.5" />
<line x1="680.0" y1="1377.7" x2="915.0" y2="1277.7" stroke="#9a9a9a" stroke-width="0.5" />
<line x1="680.0" y1="1380.1" x2="915.0" y2="1280.1" stroke="#9a9a9a" stroke-width="0.5" />
<line x1="680.0" y1="1382.6" x2="915.0" y2="1282.6" stroke="#9a9a9a" stroke-width="0.5" />
<polygon points="721.7,1424.5 942.0,1330.2 945.8,1345.0 725.5,1440.5" fill="#555" stroke="#222" stroke-width="0.8" stroke-linejoin="round" />
<line x1="722.2" y1="1426.8" x2="942.5" y2="1332.3" stroke="#9a9a9a" stroke-width="0.5" />
<line x1="722.8" y1="1429.1" x2="943.1" y2="1334.4" stroke="#9a9a9a" stroke-width="0.5" />
<line x1="723.3" y1="1431.4" x2="943.6" y2="1336.5" stroke="#9a9a9a" stroke-width="0.5" />
<line x1="723.9" y1="1433.6" x2="944.2" y2="1338.7" stroke="#9a9a9a" stroke-width="0.5" />
<line x1="724.4" y1="1435.9" x2="944.7" y2="1340.8" stroke="#9a9a9a" stroke-width="0.5" />
<line x1="725.0" y1="1438.2" x2="945.3" y2="1342.9" stroke="#9a9a9a" stroke-width="0.5" />
<polygon points="604.7,1275.8 611.1,1272.8 621.7,1283.4 549.3,1436.9 535.7,1428.1" fill="#fff" stroke="#222" stroke-width="1.1" stroke-linejoin="round" />
<line x1="614.9" y1="1285.7" x2="542.5" y2="1431.4" stroke="#333" stroke-width="0.9" />
<line x1="611.1" y1="1272.8" x2="614.9" y2="1285.7" stroke="#333" stroke-width="0.8" />
<polygon points="620.2,1285.3 632.3,1278.1 638.3,1276.2 728.0,1442.5 719.0,1449.0 709.4,1453.3" fill="#fff" stroke="#222" stroke-width="1.1" stroke-linejoin="round" />
<line x1="632.3" y1="1278.1" x2="719.0" y2="1449.0" stroke="#333" stroke-width="0.9" />
<polygon points="611.1,1272.8 641.3,1278.5 632.3,1278.1 621.7,1283.4" fill="#fff" stroke="#333" stroke-width="0.8" stroke-linejoin="round" />
<rect x="872" y="1180" width="9" height="8" rx="3" fill="#111"/>
<rect x="868" y="1182" width="5" height="4" fill="#666"/>
<path d="M495.1,1355.6 L505.4,1383.6 L497.9,1383.2 C498.5,1405 499,1420 503,1427 C506,1432 509,1433.4 512,1433.4 L531.9,1433.4 L532.3,1444.8 L509,1444.8 C500,1444 493,1436 490,1425 C487.5,1415 486.5,1400 485.9,1381.1 L479.2,1380.4 Z" fill="#111"/>
<path d="M826.5,1421.7 L821.6,1450.5 L815.5,1447.4 C805,1466 790,1480 768,1486.5 C752,1490 734,1483 717.4,1473.8 L722.3,1464.6 C735,1472 750,1476 764,1474 C782,1470 796,1455 805.7,1439.4 L800.8,1435.1 Z" fill="#111"/>
</svg></body></html>
